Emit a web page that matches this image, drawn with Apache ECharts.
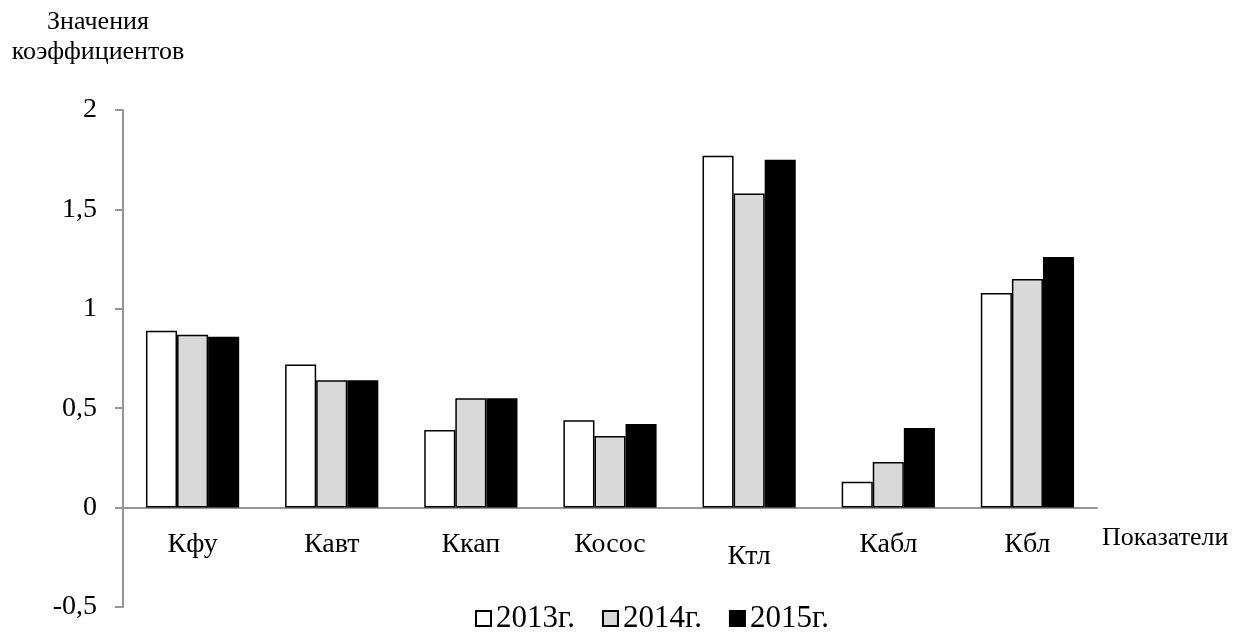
<!DOCTYPE html>
<html>
<head>
<meta charset="utf-8">
<script src="https://cdn.jsdelivr.net/npm/echarts@6/dist/echarts.min.js"></script>
<style>
  html, body { margin: 0; padding: 0; background: #fff; }
  #chart { width: 1233px; height: 636px; }
</style>
</head>
<body>
<div id="chart"></div>
<script>
// Financial ratios by year
const categories = ['Кфу', 'Кавт', 'Ккап', 'Косос', 'Ктл', 'Кабл', 'Кбл'];
const years = ['2013г.', '2014г.', '2015г.'];
const values2013 = [0.89, 0.72, 0.39, 0.44, 1.77, 0.13, 1.08];
const values2014 = [0.87, 0.64, 0.55, 0.36, 1.58, 0.23, 1.15];
const values2015 = [0.86, 0.64, 0.55, 0.42, 1.75, 0.40, 1.26];
const yMin = -0.5;
const yMax = 2;
const yStep = 0.5;

const FONT = '"Liberation Serif", "Times New Roman", serif';
const AXIS_COLOR = '#969696';
const fills = ['#ffffff', '#d9d9d9', '#000000'];
const seriesValues = [values2013, values2014, values2015];

const GRID_TOP = 110;
const GRID_BOTTOM = 29;
const chartHeight = 636;
// the category axis sits on the zero line; shift it up from the grid bottom
const plotHeight = chartHeight - GRID_TOP - GRID_BOTTOM;
const zeroOffset = -plotHeight * (0 - yMin) / (yMax - yMin);

const chart = echarts.init(document.getElementById('chart'));
chart.setOption({
  animation: false,
  backgroundColor: '#ffffff',
  textStyle: { fontFamily: FONT, color: '#000' },
  grid: { left: 123, right: 136, top: GRID_TOP, bottom: GRID_BOTTOM, containLabel: false, outerBoundsMode: 'none' },
  legend: {
    left: 470,
    top: 598,
    icon: 'rect',
    itemWidth: 15,
    itemHeight: 15,
    itemGap: 27,
    textStyle: { fontFamily: FONT, fontSize: 31, color: '#000' },
    data: years
  },
  xAxis: {
    type: 'category',
    data: categories,
    position: 'bottom',
    offset: zeroOffset,
    name: 'Показатели',
    nameLocation: 'end',
    nameGap: 5,
    nameTextStyle: { fontFamily: FONT, fontSize: 26, color: '#000', verticalAlign: 'top', lineHeight: 30, padding: [16, 0, 0, 0] },
    axisLine: { onZero: false, lineStyle: { color: AXIS_COLOR, width: 2 } },
    axisTick: { show: false },
    axisLabel: {
      interval: 0,
      margin: 22,
      fontFamily: FONT,
      fontSize: 28,
      color: '#000',
      lineHeight: 30,
      formatter: v => v === 'Ктл' ? '{low|' + v + '}' : v,
      rich: { low: { fontFamily: FONT, fontSize: 28, color: '#000', lineHeight: 30, padding: [24, 0, 0, 0] } }
    },
    splitLine: { show: false }
  },
  yAxis: {
    type: 'value',
    min: yMin,
    max: yMax,
    interval: yStep,
    name: 'Значения\nкоэффициентов',
    nameLocation: 'end',
    nameGap: 43,
    nameTextStyle: { fontFamily: FONT, fontSize: 26, color: '#000', lineHeight: 30, align: 'center', padding: [0, 50, 0, 0] },
    axisLine: { show: true, lineStyle: { color: AXIS_COLOR, width: 2 } },
    axisTick: { show: true, inside: false, length: 8, lineStyle: { color: AXIS_COLOR, width: 2 } },
    axisLabel: {
      margin: 26,
      fontFamily: FONT,
      fontSize: 28,
      color: '#000',
      formatter: v => String(v).replace('.', ',')
    },
    splitLine: { show: false }
  },
  series: years.map((name, i) => ({
    name,
    type: 'bar',
    data: seriesValues[i],
    barGap: '0%',
    barCategoryGap: '33%',
    itemStyle: { color: fills[i], borderColor: '#000', borderWidth: 1.5 }
  }))
});
</script>
</body>
</html>
